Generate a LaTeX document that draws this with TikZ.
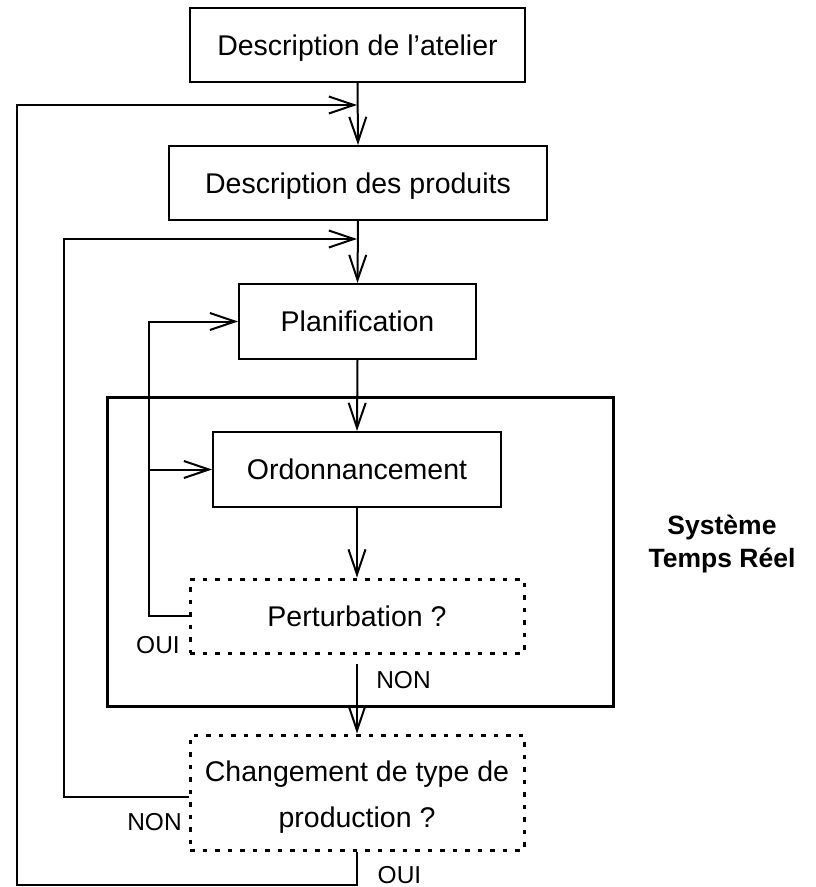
\documentclass[tikz,border=0pt]{standalone}
\usepackage{fontspec}
\setmainfont{Liberation Sans}
\usetikzlibrary{arrows.meta}

\tikzset{
  box/.style={draw, line width=2pt, minimum height=74pt, inner sep=0pt,
    text height=20.5pt, text depth=0pt,
    font=\fontsize{28.5pt}{46pt}\selectfont},
  qbox/.style={draw, line width=3pt, dash pattern=on 4.5pt off 8pt,
    minimum height=74pt, inner sep=0pt, text height=20.5pt, text depth=0pt,
    font=\fontsize{28.5pt}{46pt}\selectfont},
  frame/.style={draw, line width=3pt, inner sep=0pt},
  txt/.style={inner sep=0pt, font=\fontsize{28.5pt}{46pt}\selectfont},
  lbl/.style={inner sep=0pt, font=\fontsize{24.5pt}{30pt}\selectfont},
  conn/.style={line width=2pt},
  arr/.style={conn, -{Straight Barb[length=25pt,width=17pt]}},
}

\begin{document}
\begin{tikzpicture}[x=1pt, y=-1pt]
  \path[use as bounding box] (0,0) rectangle (816,887);

  % real-time system frame
  \node[frame, minimum width=506pt, minimum height=309pt] (rt) at (360,551.5) {};

  % process steps
  \node[box, minimum width=335pt] (atelier) at (357.5,45) {Description de l’atelier};
  \node[box, minimum width=378pt] (produits) at (358,183) {Description des produits};
  \node[box, minimum width=237pt, minimum height=75pt] (planif) at (357.5,321.5) {Planification};
  \node[box, minimum width=288pt, minimum height=75pt] (ordo) at (357,469.5) {Ordonnancement};
  \node[qbox, minimum width=334pt] (pert) at (357,616) {Perturbation ?};
  \node[qbox, minimum width=334pt, minimum height=115pt] (chang) at (357,792.5) {};
  \node[txt, align=center] (changtxt) at (357,797.5) {Changement de type de\\production ?};

  % side caption
  \node[inner sep=0pt, align=center, font=\fontsize{26.5pt}{33pt}\selectfont\bfseries]
    (srt) at (722,544) {Système\\Temps Réel};

  % branch labels
  \node[lbl] (oui1) at (158,645) {OUI};
  \node[lbl] (non1) at (403.5,680) {NON};
  \node[lbl] (non2) at (154.5,822) {NON};
  \node[lbl] (oui2) at (399.5,875) {OUI};

  % junction points on the main column and loop corners
  \coordinate (j1) at (357,105);
  \coordinate (j2) at (357,239);
  \coordinate (k1) at (17,105);
  \coordinate (k2) at (64,239);
  \coordinate (k3) at (149,616);
  \coordinate (m1) at (357,885);

  % main flow
  \draw[arr] (atelier.south) -- (produits.north);
  \draw[arr] (produits.south) -- (planif.north);
  \draw[arr] (planif.south) -- (ordo.north);
  \draw[arr] (ordo.south) -- (pert.north);
  \draw[arr] ([yshift=-9pt]pert.south) -- (chang.north);

  % feedback on disturbance
  \draw[arr] (pert.west) -- (k3) |- (planif.west);
  \draw[arr] (k3 |- ordo.west) -- (ordo.west);

  % no change of production type: back to the products description
  \draw[arr] ([yshift=-4.5pt]chang.west) -| (k2) -- (j2);

  % change of production type: back to the workshop description
  \draw[arr] (chang.south) -- (m1) -| (k1) -- (j1);
\end{tikzpicture}
\end{document}
